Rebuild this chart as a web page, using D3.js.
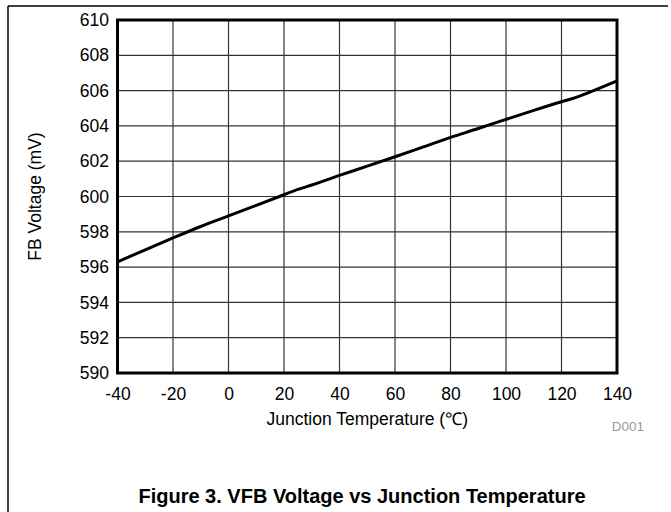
<!DOCTYPE html>
<html><head><meta charset="utf-8">
<script src="https://cdn.jsdelivr.net/npm/d3@7"></script>
<style>body{margin:0;background:#fff}svg{display:block}</style>
</head><body>
<script>
const temps = [-40,-30,-20,-10,0,10,20,25,30,40,50,60,70,80,90,100,110,120,125,130,140];
const fbVoltage = [596.3,596.98,597.65,598.3,598.9,599.5,600.1,600.4,600.65,601.2,601.72,602.25,602.8,603.35,603.85,604.37,604.88,605.37,605.6,605.9,606.55];
const xTicks = [-40,-20,0,20,40,60,80,100,120,140];
const yTicks = [590,592,594,596,598,600,602,604,606,608,610];
const xTitle = "Junction Temperature (\u2103)";
const yTitle = "FB Voltage (mV)";
const figTitle = "Figure 3. VFB Voltage vs Junction Temperature";
const figId = "D001";

const W=671,H=512;
const svg=d3.select("body").append("svg").attr("width",W).attr("height",H);
const L=117.5,R=617,T=20,B=373;
const x=d3.scaleLinear().domain([-40,140]).range([L,R]);
const y=d3.scaleLinear().domain([590,610]).range([B,T]);
const font="'Liberation Sans', Arial, sans-serif";
const fmt=d=>String(d);

// frame lines
svg.append("line").attr("x1",8).attr("x2",668).attr("y1",6).attr("y2",6).attr("stroke","#000").attr("stroke-width",1.5);
svg.append("line").attr("x1",8).attr("x2",8).attr("y1",6).attr("y2",H).attr("stroke","#000").attr("stroke-width",1.5);

// grid
const g=svg.append("g");
g.selectAll(".vx").data(xTicks).join("line").attr("x1",d=>x(d)).attr("x2",d=>x(d)).attr("y1",T).attr("y2",B).attr("stroke","#333").attr("stroke-width",1.2);
g.selectAll(".hy").data(yTicks).join("line").attr("x1",L).attr("x2",R).attr("y1",d=>y(d)).attr("y2",d=>y(d)).attr("stroke","#333").attr("stroke-width",1.2);

// axes (labels only)
const xa=svg.append("g").attr("transform",`translate(0,${B})`).call(d3.axisBottom(x).tickValues(xTicks).tickSize(0).tickPadding(15).tickFormat(fmt));
const ya=svg.append("g").attr("transform",`translate(${L},0)`).call(d3.axisLeft(y).tickValues(yTicks).tickSize(0).tickPadding(8.5).tickFormat(fmt));
[xa,ya].forEach(a=>{a.select(".domain").remove();a.selectAll("text").attr("font-family",font).attr("font-size",17.5).attr("fill","#000");});

// curve
svg.append("path").datum(temps.map((t,i)=>[t,fbVoltage[i]]))
 .attr("d",d3.line().x(d=>x(d[0])).y(d=>y(d[1])).curve(d3.curveMonotoneX))
 .attr("fill","none").attr("stroke","#000").attr("stroke-width",3);

// border
svg.append("rect").attr("x",L).attr("y",T).attr("width",R-L).attr("height",B-T).attr("fill","none").attr("stroke","#000").attr("stroke-width",3);

// titles
svg.append("text").attr("x",(L+R)/2).attr("y",425).attr("text-anchor","middle").attr("font-family",font).attr("font-size",17.5).text(xTitle);
svg.append("text").attr("transform",`translate(41,${(T+B)/2}) rotate(-90)`).attr("text-anchor","middle").attr("font-family",font).attr("font-size",17.5).text(yTitle);
svg.append("text").attr("x",644).attr("y",431).attr("text-anchor","end").attr("font-family",font).attr("font-size",13.5).attr("fill","#9a9a9a").text(figId);
svg.append("text").attr("x",362).attr("y",503).attr("text-anchor","middle").attr("font-family",font).attr("font-weight","bold").attr("font-size",20).text(figTitle);
</script>
</body></html>
